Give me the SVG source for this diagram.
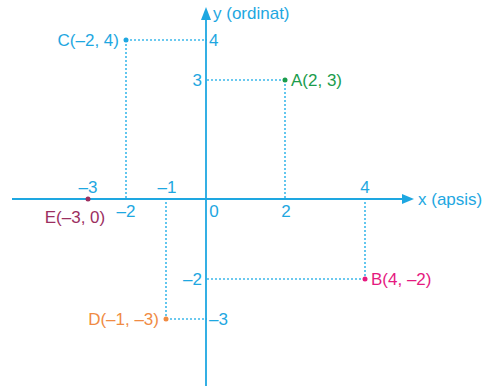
<svg xmlns="http://www.w3.org/2000/svg" width="490" height="389" viewBox="0 0 490 389">
<style>
text{font-family:"Liberation Sans",Arial,sans-serif;font-size:17px}
.ax{stroke:#1ea7e1;stroke-width:1.8;fill:none}
.dot{stroke:#3cb8ea;stroke-width:1.6;stroke-dasharray:2 2;fill:none}
.b{fill:#1ea7e1}
</style>
<g id="connectors">
<line class="dot" x1="126" y1="40" x2="207" y2="40"/>
<line class="dot" x1="126" y1="40" x2="126" y2="198"/>
<line class="dot" x1="207" y1="80" x2="285" y2="80"/>
<line class="dot" x1="285" y1="80" x2="285" y2="198"/>
<line class="dot" x1="207" y1="279" x2="365" y2="279"/>
<line class="dot" x1="365" y1="198" x2="365" y2="279"/>
<line class="dot" x1="166" y1="198" x2="166" y2="319"/>
<line class="dot" x1="166" y1="319" x2="207" y2="319"/>
</g>
<g id="x-axis">
<line class="ax" x1="12" y1="199" x2="406" y2="199"/>
<path d="M402,194 L414,199 L402,204 Z" fill="#1ea7e1"/>
<text class="b" x="418" y="205">x (apsis)</text>
</g>
<g id="y-axis">
<line class="ax" x1="206" y1="386" x2="206" y2="16"/>
<path d="M201,20 L206,7 L211,20 Z" fill="#1ea7e1"/>
<text class="b" x="213" y="19">y (ordinat)</text>
</g>
<g id="ticks">
<text class="b" x="88" y="193" text-anchor="middle">–3</text>
<text class="b" x="167" y="193" text-anchor="middle">–1</text>
<text class="b" x="365" y="193" text-anchor="middle">4</text>
<text class="b" x="126" y="217" text-anchor="middle">–2</text>
<text class="b" x="214" y="217" text-anchor="middle">0</text>
<text class="b" x="286" y="217" text-anchor="middle">2</text>
<text class="b" x="209" y="46">4</text>
<text class="b" x="202" y="86" text-anchor="end">3</text>
<text class="b" x="202" y="285" text-anchor="end">–2</text>
<text class="b" x="209" y="325">–3</text>
</g>
<g id="point-A">
<circle cx="285" cy="80" r="2.5" fill="#1a9c4c"/>
<text x="291" y="86" fill="#1a9c4c">A(2, 3)</text>
</g>
<g id="point-B">
<circle cx="365" cy="279" r="2.5" fill="#e5197f"/>
<text x="371" y="285" fill="#e5197f">B(4, –2)</text>
</g>
<g id="point-C">
<circle cx="126" cy="40" r="2.5" fill="#1ea7e1"/>
<text x="119" y="46" text-anchor="end" fill="#1ea7e1">C(–2, 4)</text>
</g>
<g id="point-D">
<circle cx="166" cy="319" r="2.5" fill="#f08b43"/>
<text x="159" y="325" text-anchor="end" fill="#f08b43">D(–1, –3)</text>
</g>
<g id="point-E">
<circle cx="88" cy="199" r="2.5" fill="#9c2f5f"/>
<text x="75" y="223" text-anchor="middle" fill="#9c2f5f">E(–3, 0)</text>
</g>
</svg>
